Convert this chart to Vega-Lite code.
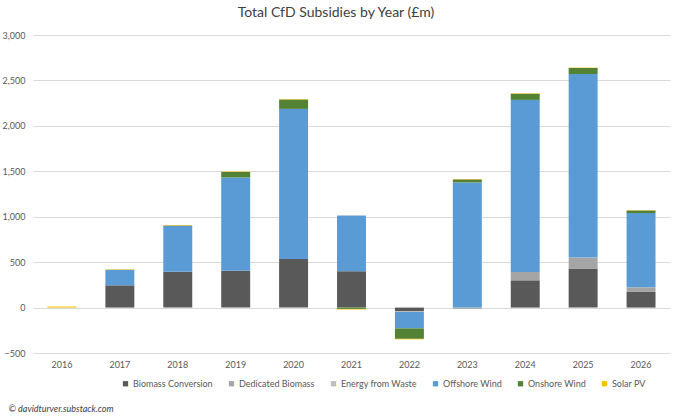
{
  "$schema": "https://vega.github.io/schema/vega-lite/v6.json",
  "autosize": "none",
  "width": 637,
  "height": 318,
  "padding": {"left": 33, "top": 35, "right": 10, "bottom": 63},
  "background": "white",
  "title": {
    "text": "Total CfD Subsidies by Year (£m)",
    "fontSize": 14,
    "fontWeight": "normal",
    "color": "#404040",
    "font": "Lato",
    "anchor": "middle",
    "frame": "bounds",
    "offset": 11
  },
  "data": {
    "values": [
      {"year": "2016", "tech": "Solar PV", "value": 12},
      {"year": "2017", "tech": "Biomass Conversion", "value": 245},
      {"year": "2017", "tech": "Offshore Wind", "value": 172},
      {"year": "2017", "tech": "Solar PV", "value": 5},
      {"year": "2018", "tech": "Biomass Conversion", "value": 395},
      {"year": "2018", "tech": "Offshore Wind", "value": 502},
      {"year": "2018", "tech": "Onshore Wind", "value": 6},
      {"year": "2018", "tech": "Solar PV", "value": 5},
      {"year": "2019", "tech": "Biomass Conversion", "value": 405},
      {"year": "2019", "tech": "Offshore Wind", "value": 1027},
      {"year": "2019", "tech": "Onshore Wind", "value": 60},
      {"year": "2019", "tech": "Solar PV", "value": 5},
      {"year": "2020", "tech": "Biomass Conversion", "value": 535},
      {"year": "2020", "tech": "Offshore Wind", "value": 1652},
      {"year": "2020", "tech": "Onshore Wind", "value": 103},
      {"year": "2020", "tech": "Solar PV", "value": 5},
      {"year": "2021", "tech": "Biomass Conversion", "value": 399},
      {"year": "2021", "tech": "Offshore Wind", "value": 615},
      {"year": "2021", "tech": "Onshore Wind", "value": -15},
      {"year": "2021", "tech": "Solar PV", "value": -6},
      {"year": "2022", "tech": "Biomass Conversion", "value": -38},
      {"year": "2022", "tech": "Dedicated Biomass", "value": -8},
      {"year": "2022", "tech": "Energy from Waste", "value": -3},
      {"year": "2022", "tech": "Offshore Wind", "value": -180},
      {"year": "2022", "tech": "Onshore Wind", "value": -115},
      {"year": "2022", "tech": "Solar PV", "value": -6},
      {"year": "2023", "tech": "Dedicated Biomass", "value": -14},
      {"year": "2023", "tech": "Offshore Wind", "value": 1377},
      {"year": "2023", "tech": "Onshore Wind", "value": 34},
      {"year": "2023", "tech": "Solar PV", "value": 4},
      {"year": "2024", "tech": "Biomass Conversion", "value": 300},
      {"year": "2024", "tech": "Dedicated Biomass", "value": 92},
      {"year": "2024", "tech": "Offshore Wind", "value": 1894},
      {"year": "2024", "tech": "Onshore Wind", "value": 68},
      {"year": "2024", "tech": "Solar PV", "value": 5},
      {"year": "2025", "tech": "Biomass Conversion", "value": 430},
      {"year": "2025", "tech": "Dedicated Biomass", "value": 120},
      {"year": "2025", "tech": "Offshore Wind", "value": 2021},
      {"year": "2025", "tech": "Onshore Wind", "value": 66},
      {"year": "2025", "tech": "Solar PV", "value": 4},
      {"year": "2026", "tech": "Biomass Conversion", "value": 172},
      {"year": "2026", "tech": "Dedicated Biomass", "value": 51},
      {"year": "2026", "tech": "Offshore Wind", "value": 817},
      {"year": "2026", "tech": "Onshore Wind", "value": 29},
      {"year": "2026", "tech": "Solar PV", "value": 3}
    ]
  },
  "mark": {"type": "bar"},
  "encoding": {
    "x": {
      "field": "year",
      "type": "ordinal",
      "scale": {"paddingInner": 0.5, "paddingOuter": 0.25},
      "axis": {
        "labelAngle": 0,
        "domain": false,
        "ticks": false,
        "labelPadding": 7,
        "labelFontSize": 9,
        "labelColor": "#595959",
        "title": "© davidturver.substack.com",
        "titleFontStyle": "italic",
        "titleFontWeight": "normal",
        "titleFontSize": 9,
        "titleColor": "#404040",
        "titleAnchor": "start",
        "titleAlign": "left",
        "titleBaseline": "middle",
        "titleX": -25,
        "titleY": 55
      }
    },
    "y": {
      "aggregate": "sum",
      "field": "value",
      "type": "quantitative",
      "scale": {"domain": [-500, 3000], "nice": false},
      "axis": {
        "values": [-500, 0, 500, 1000, 1500, 2000, 2500, 3000],
        "format": ",.0f",
        "title": null,
        "domain": false,
        "ticks": false,
        "labelPadding": 8,
        "labelFontSize": 9,
        "labelColor": "#595959",
        "gridColor": "#d9d9d9"
      }
    },
    "order": {"field": "tech", "type": "nominal", "sort": "ascending"},
    "color": {
      "field": "tech",
      "type": "nominal",
      "scale": {
        "domain": ["Biomass Conversion", "Dedicated Biomass", "Energy from Waste", "Offshore Wind", "Onshore Wind", "Solar PV"],
        "range": ["#595959", "#a5a5a5", "#bfbfbf", "#5b9bd5", "#548235", "#ffc000"]
      },
      "legend": {
        "title": null,
        "orient": "none",
        "direction": "horizontal",
        "legendX": 88,
        "legendY": 344,
        "symbolType": "square",
        "symbolSize": 28,
        "symbolStrokeWidth": 0,
        "labelFontSize": 9,
        "labelColor": "#595959",
        "labelOffset": 3,
        "columnPadding": 14
      }
    }
  },
  "config": {
    "font": "Lato",
    "view": {"stroke": null},
    "axis": {"labelFont": "Lato", "titleFont": "Lato"},
    "legend": {"labelFont": "Lato"}
  }
}
